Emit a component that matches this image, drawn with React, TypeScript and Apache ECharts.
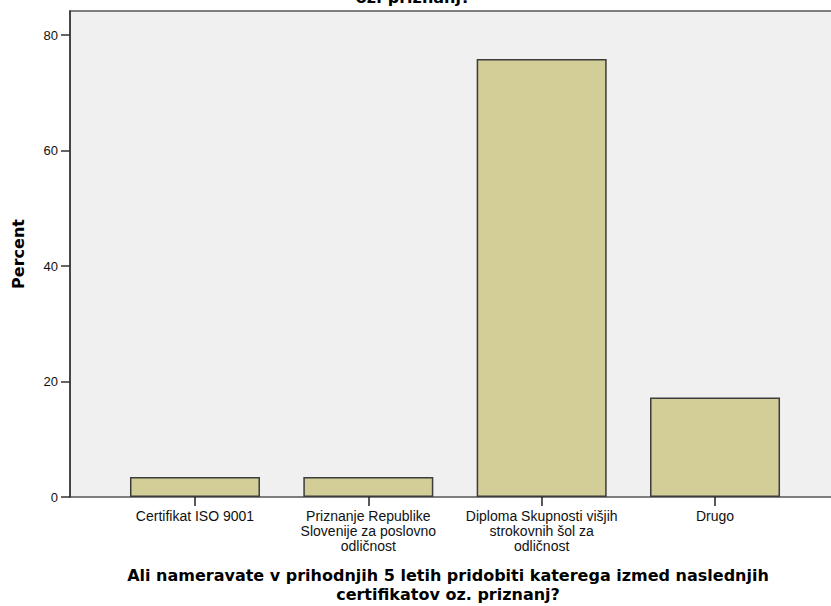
import React, { useEffect, useRef } from "react";
import * as echarts from "echarts";

// Survey categories (x axis) and percentage of respondents for each
const categories = [
  "Certifikat ISO 9001",
  "Priznanje Republike\nSlovenije za poslovno\nodličnost",
  "Diploma Skupnosti višjih\nstrokovnih šol za\nodličnost",
  "Drugo",
];
const percents = [3.45, 3.45, 75.86, 17.24];

const yTicks = { min: 0, max: 84.16, interval: 20 };

const questionLine1 = "Ali nameravate v prihodnjih 5 letih pridobiti katerega izmed naslednjih";
const questionLine2 = "certifikatov oz. priznanj?";
const titleText =
  "Ali nameravate v prihodnjih 5 letih pridobiti katerega izmed naslednjih certifikatov\noz. priznanj?";

const BOLD_FONT = "DejaVu Sans";
const LABEL_FONT = "Liberation Sans";

export default function App() {
  const ref = useRef<HTMLDivElement>(null);

  useEffect(() => {
    if (!ref.current) return;
    const chart = echarts.init(ref.current, null, { renderer: "svg" });
    chart.setOption({
      animation: false,
      backgroundColor: "#ffffff",
      graphic: [
        {
          type: "text",
          x: 413,
          y: 6,
          z: 10,
          style: {
            text: titleText,
            textAlign: "center",
            textVerticalAlign: "bottom",
            font: `bold 16px "${BOLD_FONT}"`,
            lineHeight: 18,
            fill: "#000",
          },
        },
      ],
      grid: [
        // bar band area
        { left: 108.3, right: 29.3, top: 11, bottom: 109, outerBoundsMode: "none" },
        // plot frame and background
        {
          left: 70,
          right: -9,
          top: 11,
          bottom: 109,
          outerBoundsMode: "none",
          show: true,
          backgroundColor: "#f0f0f0",
          borderColor: "#555555",
          borderWidth: 1.5,
          z: 0,
        },
      ],
      xAxis: [
        {
          type: "category",
          gridIndex: 0,
          data: categories,
          axisLine: { show: false },
          axisTick: {
            show: true,
            alignWithLabel: true,
            length: 9,
            lineStyle: { color: "#222", width: 1.5 },
          },
          axisLabel: {
            interval: 0,
            margin: 11,
            color: "#111",
            fontFamily: LABEL_FONT,
            fontSize: 14,
            lineHeight: 15,
          },
          name: questionLine1 + "\n" + questionLine2,
          nameLocation: "middle",
          nameGap: 69,
          nameTextStyle: {
            fontFamily: BOLD_FONT,
            fontWeight: "bold",
            fontSize: 16,
            lineHeight: 19,
            color: "#000",
            padding: [0, 14, 0, 0],
          },
        },
        { type: "value", gridIndex: 1, show: false, min: 0, max: 1 },
      ],
      yAxis: [
        { type: "value", gridIndex: 0, show: false, ...yTicks },
        {
          type: "value",
          gridIndex: 1,
          ...yTicks,
          splitLine: { show: false },
          axisLine: { show: true, lineStyle: { color: "#333", width: 1.5 } },
          axisTick: { show: true, length: 9, lineStyle: { color: "#333", width: 1.5 } },
          axisLabel: {
            margin: 12,
            color: "#111",
            fontFamily: LABEL_FONT,
            fontSize: 13,
            showMaxLabel: false,
          },
          name: "Percent",
          nameLocation: "middle",
          nameGap: 44,
          nameTextStyle: {
            fontFamily: BOLD_FONT,
            fontWeight: "bold",
            fontSize: 16,
            color: "#000",
          },
        },
      ],
      series: [
        {
          type: "bar",
          xAxisIndex: 0,
          yAxisIndex: 0,
          data: percents,
          barWidth: 130,
          itemStyle: {
            color: "#d3ce97",
            borderColor: "#3c3c3c",
            borderWidth: 1.5,
          },
          z: 3,
        },
      ],
    });
    return () => chart.dispose();
  }, []);

  return (
    <div
      ref={ref}
      style={{ position: "fixed", left: 0, top: 0, width: 831, height: 606 }}
    />
  );
}
